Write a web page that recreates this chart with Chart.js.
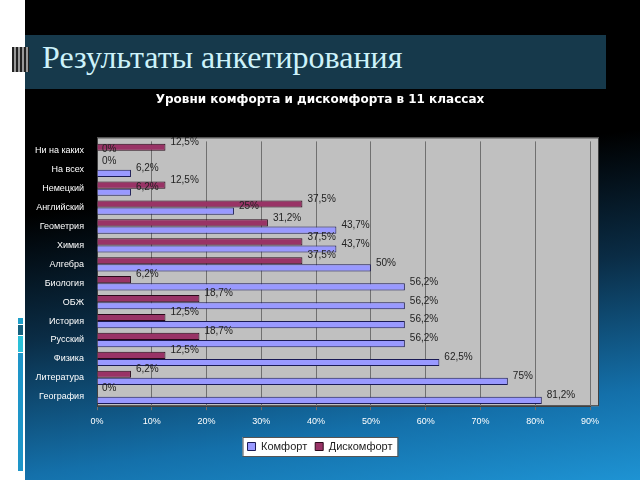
<!DOCTYPE html>
<html>
<head>
<meta charset="utf-8">
<script src="https://cdn.jsdelivr.net/npm/chart.js@4"></script>
<style>
  html, body { margin: 0; padding: 0; }
  body { width: 640px; height: 480px; position: relative; overflow: hidden; background: #fff; }
  .slide {
    position: absolute; left: 25px; top: 0; width: 615px; height: 480px;
    background: linear-gradient(172deg, #000 0%, #000 38%, #0a2c45 60%, #1470aa 84%, #1e93d3 100%);
  }
  .band {
    position: absolute; left: 25px; top: 35px; width: 581px; height: 54px;
    background: #16394b;
  }
  .title {
    position: absolute; left: 42px; top: 39px;
    font-family: "Liberation Serif", "DejaVu Serif", serif; font-size: 32px;
    color: #cdf2fa;
  }
  .icon {
    position: absolute; left: 12px; top: 47px; width: 17px; height: 25px;
    background: repeating-linear-gradient(90deg, #222 0 2px, #999 2px 4px);
  }
  .deco { position: absolute; left: 18px; width: 5px; }
  #wrap { position: absolute; left: 25px; top: 88px; width: 615px; height: 392px; }
</style>
</head>
<body>
<div class="slide"></div>
<div class="band"></div>
<div class="icon"></div>
<div class="title">Результаты анкетирования</div>
<div class="deco" style="top:318px;height:6px;background:#1e9fc8"></div>
<div class="deco" style="top:325px;height:10px;background:#14607e"></div>
<div class="deco" style="top:336px;height:16px;background:#2ac0d8"></div>
<div class="deco" style="top:353px;height:118px;background:#1e95c8"></div>
<div id="wrap"><canvas id="chart" width="615" height="392"></canvas></div>
<script>
const categories = ["Ни на каких", "На всех", "Немецкий", "Английский", "Геометрия", "Химия", "Алгебра",
  "Биология", "ОБЖ", "История", "Русский", "Физика", "Литература", "География"];
const comfort = [0, 6.2, 6.2, 25, 43.7, 43.7, 50, 56.2, 56.2, 56.2, 56.2, 62.5, 75, 81.2];
const discomfort = [12.5, 0, 12.5, 37.5, 31.2, 37.5, 37.5, 6.2, 18.7, 12.5, 18.7, 12.5, 6.2, 0];
const xTicks = [0, 10, 20, 30, 40, 50, 60, 70, 80, 90];

const fmt = v => String(v).replace(".", ",") + "%";

const plotBg = {
  id: "plotBg",
  afterLayout(chart) {
    // title and legend sit centred on the slide, a bit right of the canvas centre
    chart.titleBlock.left += 25;
    chart.legend.left += 25;
  },
  beforeDraw(chart) {
    const { ctx, chartArea: a } = chart;
    ctx.save();
    ctx.fillStyle = "#c0c0c0";
    ctx.fillRect(a.left, a.top - 4, a.right - a.left + 9, a.bottom - a.top + 4);
    ctx.strokeStyle = "#404040";
    ctx.lineWidth = 1;
    ctx.strokeRect(a.left + 0.5, a.top - 3.5, a.right - a.left + 8, a.bottom - a.top + 3);
    // white box behind the legend
    const boxes = chart.legend.legendHitBoxes;
    if (boxes && boxes.length) {
      const l = Math.min(...boxes.map(b => b.left)) - 5;
      const r = Math.max(...boxes.map(b => b.left + b.width)) + 5;
      const t = Math.min(...boxes.map(b => b.top)) - 4;
      const btm = Math.max(...boxes.map(b => b.top + b.height)) + 4;
      ctx.fillStyle = "#fff";
      ctx.fillRect(l, t, r - l, btm - t);
      ctx.strokeStyle = "#555";
      ctx.strokeRect(l + 0.5, t + 0.5, r - l, btm - t);
    }
    ctx.restore();
  }
};

const valueLabels = {
  id: "valueLabels",
  afterDatasetsDraw(chart) {
    const ctx = chart.ctx;
    ctx.save();
    ctx.font = "10px 'Liberation Sans', Arial, sans-serif";
    ctx.fillStyle = "#222";
    ctx.textAlign = "left";
    ctx.textBaseline = "bottom";
    chart.data.datasets.forEach((ds, i) => {
      chart.getDatasetMeta(i).data.forEach((el, j) => {
        ctx.fillText(fmt(ds.data[j]), el.x + 5, el.y);
      });
    });
    ctx.restore();
  }
};

new Chart(document.getElementById("chart").getContext("2d"), {
  type: "bar",
  data: {
    labels: categories,
    datasets: [{
      label: "Дискомфорт",
      data: discomfort,
      backgroundColor: "#993366",
      borderColor: "#2a0a1a",
      borderWidth: 1
    }, {
      label: "Комфорт",
      data: comfort,
      backgroundColor: "#9999ff",
      borderColor: "#1a1a55",
      borderWidth: 1
    }]
  },
  options: {
    responsive: false,
    animation: false,
    indexAxis: "y",
    layout: { padding: { left: 0, right: 50, bottom: 18, top: 0 } },
    datasets: { bar: { categoryPercentage: 0.76, barPercentage: 1 } },
    scales: {
      x: {
        min: 0, max: 90,
        afterBuildTicks(scale) { scale.ticks = xTicks.map(v => ({ value: v })); },
        ticks: {
          color: "#fff",
          font: { size: 9, family: "'Liberation Sans', Arial, sans-serif" },
          callback: v => v + "%",
          padding: 6
        },
        grid: { color: "#707070", drawTicks: true, tickLength: 4 },
        border: { color: "#404040" }
      },
      y: {
        afterFit(scale) { scale.width = 72; },
        ticks: {
          color: "#fff",
          font: { size: 9, family: "'Liberation Sans', Arial, sans-serif" },
          autoSkip: false,
          padding: 5
        },
        grid: { display: false },
        border: { color: "#404040" }
      }
    },
    plugins: {
      title: {
        display: true,
        text: "Уровни комфорта и дискомфорта в 11 классах",
        color: "#fff",
        font: { size: 12, weight: "bold", family: "'DejaVu Sans', sans-serif" },
        padding: { top: 5, bottom: 34 }
      },
      legend: {
        position: "bottom",
        reverse: true,
        labels: {
          color: "#222",
          boxWidth: 8,
          boxHeight: 8,
          padding: 8,
          font: { size: 11, family: "'Liberation Sans', Arial, sans-serif" }
        }
      },
      tooltip: { enabled: false }
    }
  },
  plugins: [plotBg, valueLabels]
});
</script>
</body>
</html>
